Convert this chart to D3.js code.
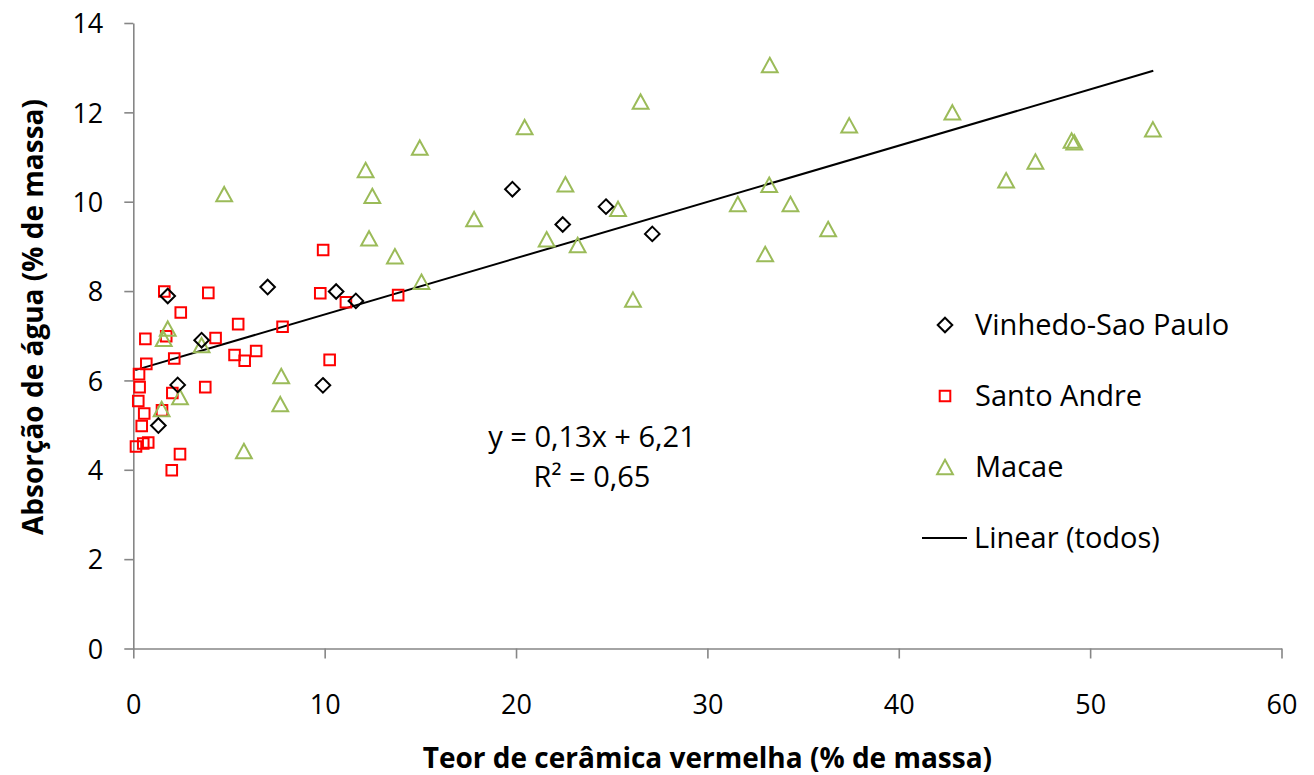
<!DOCTYPE html>
<html>

<head>
    <meta charset="UTF-8">
    <style>
        body { margin: 0; background: #fff; }
        text { font-family: "Open Sans", sans-serif; }
    </style>
</head>

<body>
    <svg></svg>
    <script src="https://d3js.org/d3.v7.min.js"></script>

    <script>

        let width = 1314, height = 775;

        // data
        const vinhedoX = [1.80, 7.02, 10.60, 11.63, 3.57, 2.32, 9.91, 1.31, 19.81, 22.44, 24.70, 27.12];
        const vinhedoY = [7.89, 8.09, 7.99, 7.78, 6.90, 5.90, 5.89, 4.99, 10.28, 9.49, 9.89, 9.28];

        const santoX = [1.62, 3.92, 9.77, 13.84, 11.11, 2.48, 5.48, 7.80, 0.63, 1.72, 4.30, 5.29, 6.42, 5.82, 2.14, 10.26,
            0.68, 0.30, 0.33, 3.76, 2.04, 0.26, 0.57, 1.50, 0.44, 0.52, 0.78, 0.14, 2.44, 2.01, 9.92];
        const santoY = [7.99, 7.96, 7.95, 7.91, 7.75, 7.52, 7.26, 7.20, 6.93, 6.99, 6.95, 6.57, 6.66, 6.44, 6.49, 6.46,
            6.37, 6.14, 5.85, 5.85, 5.72, 5.54, 5.26, 5.33, 4.98, 4.59, 4.61, 4.52, 4.35, 3.99, 8.92];

        const macaeX = [4.75, 12.14, 12.49, 12.32, 13.67, 15.06, 14.97, 20.45, 17.81, 22.58, 21.60, 23.22, 25.33, 26.11,
            26.51, 33.26, 37.41, 42.80, 33.23, 31.59, 34.34, 36.31, 33.02, 53.28, 49.03, 49.17, 47.14, 45.61,
            1.80, 1.59, 3.57, 7.73, 7.68, 2.44, 1.48, 5.78];
        const macaeY = [10.17, 10.71, 10.13, 9.18, 8.78, 8.21, 11.21, 11.67, 9.61, 10.39, 9.16, 9.03, 9.84, 7.81,
            12.24, 13.06, 11.71, 12.00, 10.38, 9.95, 9.95, 9.39, 8.83, 11.62, 11.37, 11.33, 10.90, 10.48,
            7.16, 6.93, 6.79, 6.10, 5.47, 5.63, 5.36, 4.42];

        // linear trend (todos), ends as drawn
        const trendX = [0.1, 53.3];
        const trendY = [6.23, 12.93];

        const xTicks = [0, 10, 20, 30, 40, 50, 60];
        const yTicks = [0, 2, 4, 6, 8, 10, 12, 14];

        const legendLabels = ["Vinhedo-Sao Paulo", "Santo Andre", "Macae", "Linear (todos)"];
        const equationLines = ["y = 0,13x + 6,21", "R\u00B2 = 0,65"];

        const axisColor = "#868686";
        const green = "#9BBB59";

        let svg = d3.select("svg")
            .attr("width", width)
            .attr("height", height)
            .attr("viewBox", "0 0 " + width + " " + height);

        const x = d3.scaleLinear().domain([0, 60]).range([133.3, 1281.5]);
        const y = d3.scaleLinear().domain([0, 14]).range([648.5, 23]);

        // marker shapes
        const diamond = "M0,-7.3L7.3,0L0,7.3L-7.3,0Z";
        const square = "M-5.3,-5.3H5.3V5.3H-5.3Z";
        const triangle = "M0,-7.2L7.9,7.2H-7.9Z";

        // axes
        let xAxis = svg.append("g")
            .attr("transform", "translate(0," + y(0) + ")")
            .call(d3.axisBottom(x).tickValues(xTicks).tickSize(10).tickSizeOuter(0));

        let yAxis = svg.append("g")
            .attr("transform", "translate(" + x(0) + ",0)")
            .call(d3.axisLeft(y).tickValues(yTicks).tickSize(9).tickSizeOuter(0));

        [xAxis, yAxis].forEach(function (ax) {
            ax.select(".domain").attr("stroke", axisColor).attr("stroke-width", 1.6);
            ax.selectAll(".tick line").attr("stroke", axisColor).attr("stroke-width", 1.6);
            ax.selectAll(".tick text")
                .attr("fill", "#000")
                .style("font-size", "27px")
                .style("font-family", "'Open Sans', sans-serif");
        });

        xAxis.selectAll(".tick text").attr("dy", null).attr("y", 65);
        yAxis.selectAll(".tick text").attr("x", -30).attr("dy", "0.36em");

        // axis titles
        svg.append("text")
            .attr("x", (x(0) + x(60)) / 2)
            .attr("y", 768)
            .attr("text-anchor", "middle")
            .style("font-size", "28px")
            .style("font-weight", "bold")
            .text("Teor de cerâmica vermelha (% de massa)");

        svg.append("text")
            .attr("transform", "translate(43,317) rotate(-90)")
            .attr("text-anchor", "middle")
            .style("font-size", "28px")
            .style("font-weight", "bold")
            .text("Absorção de água (% de massa)");

        // trend line
        svg.append("path")
            .datum(d3.zip(trendX, trendY))
            .attr("fill", "none")
            .attr("stroke", "#000")
            .attr("stroke-width", 2)
            .attr("d", d3.line().x(d => x(d[0])).y(d => y(d[1])));

        // series
        function drawSeries(xs, ys, shape, color, width) {
            svg.append("g")
                .selectAll("path")
                .data(d3.zip(xs, ys))
                .enter()
                .append("path")
                .attr("d", shape)
                .attr("transform", d => "translate(" + x(d[0]) + "," + y(d[1]) + ")")
                .attr("fill", "none")
                .attr("stroke", color)
                .attr("stroke-width", width);
        }

        drawSeries(santoX, santoY, square, "#FF0000", 2);
        drawSeries(macaeX, macaeY, triangle, green, 2);
        drawSeries(vinhedoX, vinhedoY, diamond, "#000", 2);

        // equation
        svg.append("g")
            .selectAll("text")
            .data(equationLines)
            .enter()
            .append("text")
            .attr("x", 592)
            .attr("y", (d, i) => 447 + i * 40)
            .attr("text-anchor", "middle")
            .style("font-size", "29px")
            .text(d => d);

        // legend
        const legendShapes = [diamond, square, triangle, null];
        const legendColors = ["#000", "#FF0000", green, "#000"];

        let legend = svg.append("g")
            .attr("transform", "translate(945,325)");

        let items = legend.selectAll("g")
            .data(legendLabels)
            .enter()
            .append("g")
            .attr("transform", (d, i) => "translate(0," + (i * 71) + ")");

        items.each(function (d, i) {
            let g = d3.select(this);
            if (legendShapes[i]) {
                g.append("path")
                    .attr("d", legendShapes[i])
                    .attr("fill", "none")
                    .attr("stroke", legendColors[i])
                    .attr("stroke-width", 2);
            } else {
                g.append("line")
                    .attr("x1", -23).attr("x2", 22)
                    .attr("y1", 0).attr("y2", 0)
                    .attr("stroke", "#000")
                    .attr("stroke-width", 2);
            }
            g.append("text")
                .attr("x", i == 3 ? 29 : 30)
                .attr("dy", "0.36em")
                .style("font-size", "29px")
                .text(d);
        });

    </script>

</body>

</html>
